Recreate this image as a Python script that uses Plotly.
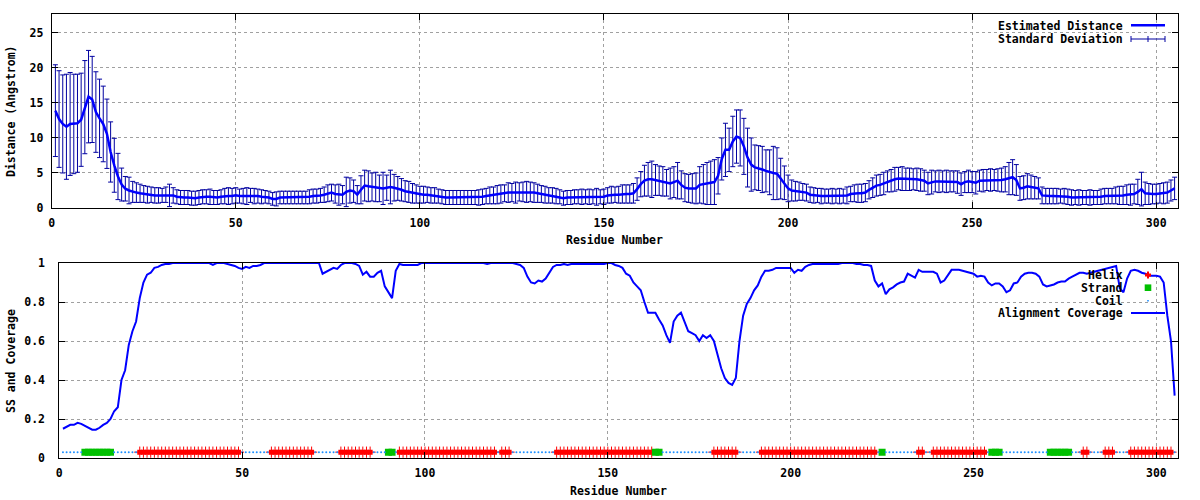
import plotly.graph_objects as go

# ---------------- data ----------------
residues = list(range(1, 306))

distance = [
    13.9, 12.7, 12.0, 11.6, 12.0, 12.0, 12.1, 12.6, 14.4, 15.9,
    15.5, 13.7, 12.8, 12.0, 10.6, 8.0, 6.1, 4.5, 3.35, 2.75,
    2.5, 2.3, 2.2, 2.1, 2.0, 1.9, 1.9, 1.8, 1.8, 1.8,
    1.9, 1.8, 1.8, 1.6, 1.5, 1.5, 1.5, 1.4, 1.4, 1.5,
    1.6, 1.6, 1.6, 1.5, 1.5, 1.6, 1.7, 1.7, 1.7, 1.8,
    1.7, 1.7, 1.7, 1.8, 1.7, 1.7, 1.6, 1.6, 1.5, 1.3,
    1.3, 1.5, 1.5, 1.5, 1.5, 1.5, 1.5, 1.5, 1.5, 1.6,
    1.7, 1.7, 1.8, 1.9, 2.1, 2.2, 2.0, 1.9, 1.9, 2.3,
    2.5, 2.4, 1.9, 2.6, 3.2, 3.1, 3.0, 3.0, 2.8, 2.8,
    2.9, 3.0, 2.9, 2.8, 2.6, 2.4, 2.3, 2.1, 2.0, 1.9,
    1.9, 1.9, 1.8, 1.8, 1.7, 1.6, 1.5, 1.5, 1.5, 1.5,
    1.5, 1.5, 1.5, 1.5, 1.5, 1.5, 1.6, 1.7, 1.8, 1.8,
    1.9, 2.0, 2.1, 2.2, 2.2, 2.2, 2.3, 2.3, 2.3, 2.3,
    2.2, 2.1, 2.0, 1.9, 1.8, 1.8, 1.7, 1.6, 1.4, 1.5,
    1.5, 1.6, 1.6, 1.6, 1.6, 1.6, 1.6, 1.6, 1.6, 1.6,
    1.8, 1.9, 1.9, 1.9, 2.0, 2.0, 2.0, 2.1, 2.7, 3.4,
    3.9, 4.1, 4.1, 4.0, 3.9, 3.8, 3.6, 3.5, 3.7, 3.9,
    3.3, 2.9, 2.8, 2.8, 2.8, 3.3, 3.4, 3.5, 3.6, 3.7,
    4.6, 7.0, 8.3, 8.3, 9.5, 10.2, 10.0, 8.8, 7.2, 6.2,
    5.8, 5.7, 5.5, 5.3, 5.1, 5.0, 4.9, 4.2, 3.6, 2.8,
    2.5, 2.4, 2.4, 2.3, 2.2, 1.9, 1.8, 1.8, 1.7, 1.7,
    1.7, 1.7, 1.7, 1.7, 1.7, 1.8, 2.0, 2.1, 2.1, 2.1,
    2.2, 2.6, 2.9, 3.2, 3.3, 3.5, 3.8, 3.9, 4.1, 4.2,
    4.2, 4.1, 4.1, 4.1, 4.1, 4.0, 3.9, 3.5, 3.7, 3.8,
    3.8, 3.8, 3.8, 3.8, 3.8, 3.7, 3.4, 3.7, 3.8, 3.7,
    3.6, 3.9, 3.9, 4.0, 4.0, 4.0, 4.0, 4.0, 4.1, 4.2,
    4.4, 4.0, 2.8, 2.9, 3.1, 3.0, 2.9, 2.8, 1.8, 1.7,
    1.7, 1.7, 1.7, 1.7, 1.7, 1.6, 1.5, 1.5, 1.5, 1.5,
    1.5, 1.5, 1.5, 1.5, 1.6, 1.7, 1.7, 1.7, 1.8, 1.8,
    1.8, 1.9, 1.9, 2.0, 2.3, 2.7, 2.1, 2.0, 2.0, 2.0,
    2.1, 2.1, 2.2, 2.5, 2.8,
]

std_dev = [
    6.55, 6.9, 7.0, 7.5, 7.35, 7.1, 7.0, 6.65, 6.65, 6.6,
    6.15, 5.75, 5.6, 5.4, 4.95, 4.3, 3.85, 3.3, 2.35, 1.75,
    1.9, 1.5, 1.4, 1.3, 1.2, 1.2, 1.1, 1.1, 1.1, 1.0,
    1.1, 1.6, 1.1, 1.0, 1.0, 1.0, 1.0, 1.0, 1.0, 1.0,
    1.0, 1.0, 1.1, 1.0, 1.0, 1.0, 1.1, 1.2, 1.1, 1.1,
    1.0, 1.1, 1.2, 1.0, 1.1, 1.0, 1.0, 0.9, 0.9, 0.9,
    1.0, 0.9, 0.9, 0.9, 0.9, 0.9, 0.9, 0.9, 0.9, 1.0,
    1.0, 1.0, 1.0, 1.1, 1.2, 1.2, 1.3, 1.5, 1.3, 2.1,
    1.8, 1.6, 1.3, 2.0, 2.2, 2.2, 2.0, 2.1, 1.9, 2.3,
    1.8, 2.4, 1.9, 1.7, 1.6, 1.5, 1.5, 1.4, 1.3, 1.2,
    1.2, 1.1, 1.1, 1.1, 1.0, 1.0, 1.0, 1.0, 1.0, 1.0,
    1.0, 1.0, 1.0, 1.0, 1.0, 1.1, 1.1, 1.1, 1.2, 1.2,
    1.3, 1.3, 1.2, 1.4, 1.3, 1.5, 1.3, 1.4, 1.5, 1.4,
    1.4, 1.3, 1.2, 1.2, 1.1, 1.1, 1.1, 1.0, 1.0, 1.0,
    1.0, 1.0, 1.0, 1.1, 1.0, 1.1, 1.0, 1.2, 1.0, 1.1,
    1.1, 1.2, 1.1, 1.2, 1.3, 1.3, 1.3, 1.4, 1.6, 1.8,
    2.2, 2.4, 2.6, 2.2, 2.1, 2.1, 1.9, 2.2, 2.2, 2.6,
    2.0, 2.0, 2.0, 2.1, 2.2, 2.6, 2.8, 3.0, 3.1, 3.2,
    2.6, 3.0, 3.8, 3.1, 3.6, 3.8, 4.0, 4.0, 4.2, 3.8,
    3.2, 3.2, 3.3, 3.0, 3.2, 3.8, 3.7, 2.9, 2.4, 1.9,
    1.5, 1.4, 1.3, 1.2, 1.2, 1.1, 1.1, 1.0, 1.1, 1.0,
    1.0, 1.1, 1.0, 1.1, 1.0, 1.2, 1.1, 1.2, 1.3, 1.3,
    1.3, 1.3, 1.4, 1.5, 1.5, 1.6, 1.5, 1.6, 1.7, 1.6,
    1.7, 1.6, 1.6, 1.5, 1.6, 1.6, 1.5, 1.6, 1.7, 1.5,
    1.6, 1.5, 1.6, 1.5, 1.5, 1.6, 1.6, 1.5, 1.6, 1.5,
    1.6, 1.5, 1.6, 1.5, 1.6, 1.5, 1.6, 1.7, 1.8, 2.3,
    2.5, 2.2, 1.7, 1.7, 1.8, 1.7, 1.6, 1.5, 1.2, 1.1,
    1.1, 1.1, 1.1, 1.0, 1.1, 1.1, 1.1, 1.0, 1.1, 1.0,
    1.0, 1.1, 1.0, 1.0, 1.1, 1.1, 1.1, 1.1, 1.2, 1.3,
    1.3, 1.4, 1.5, 1.4, 1.8, 2.4, 1.6, 1.5, 1.4, 1.4,
    1.4, 1.5, 1.5, 1.5, 1.6,
]

coverage = [
    0.15, 0.16, 0.17, 0.17, 0.18, 0.175, 0.165, 0.155, 0.145, 0.145,
    0.155, 0.17, 0.18, 0.20, 0.24, 0.26, 0.40, 0.45, 0.58, 0.65,
    0.70, 0.82, 0.90, 0.94, 0.95, 0.975, 0.98, 0.99, 0.995, 0.995,
    1.0, 1.0, 1.0, 1.0, 1.0, 1.0, 1.0, 1.0, 1.0, 1.0,
    1.0, 0.99, 1.0, 1.0, 1.0, 0.995, 0.99, 0.985, 0.975, 0.97,
    0.98, 0.975, 0.985, 0.985, 0.99, 1.0, 1.0, 1.0, 1.0, 1.0,
    1.0, 1.0, 1.0, 1.0, 1.0, 1.0, 1.0, 1.0, 1.0, 1.0,
    1.0, 0.945, 0.955, 0.965, 0.975, 0.97, 0.99, 1.0, 1.0, 1.0,
    0.995, 0.985, 0.94, 0.955, 0.93, 0.93, 0.95, 0.96, 0.88, 0.85,
    0.82, 0.96, 0.995, 0.99, 0.99, 0.99, 0.99, 0.99, 1.0, 1.0,
    1.0, 1.0, 1.0, 1.0, 1.0, 1.0, 1.0, 1.0, 1.0, 1.0,
    1.0, 1.0, 1.0, 1.0, 1.0, 1.0, 0.995, 1.0, 1.0, 1.0,
    1.0, 1.0, 1.0, 1.0, 0.995, 0.99, 0.975, 0.93, 0.90, 0.895,
    0.91, 0.905, 0.92, 0.95, 0.98, 0.99, 0.99, 0.995, 0.99, 0.995,
    0.995, 0.995, 0.995, 0.995, 0.995, 0.995, 0.995, 0.995, 0.995, 1.0,
    1.0, 0.99, 0.985, 0.975, 0.945, 0.935, 0.90, 0.88, 0.86, 0.80,
    0.745, 0.745, 0.745, 0.71, 0.68, 0.63, 0.59, 0.70, 0.73, 0.745,
    0.70, 0.65, 0.64, 0.63, 0.60, 0.63, 0.615, 0.63, 0.60, 0.53,
    0.46, 0.41, 0.385, 0.375, 0.41, 0.60, 0.73, 0.79, 0.82, 0.86,
    0.885, 0.93, 0.96, 0.96, 0.965, 0.975, 0.975, 0.975, 0.975, 0.975,
    0.95, 0.965, 0.96, 0.98, 0.99, 0.995, 0.995, 0.995, 0.995, 0.995,
    0.995, 0.995, 0.995, 1.0, 1.0, 1.0, 1.0, 0.995, 0.995, 0.99,
    0.99, 0.985, 0.91, 0.88, 0.895, 0.84, 0.865, 0.875, 0.89, 0.90,
    0.905, 0.945, 0.935, 0.925, 0.965, 0.955, 0.955, 0.955, 0.955, 0.945,
    0.90, 0.91, 0.94, 0.965, 0.965, 0.965, 0.96, 0.955, 0.95, 0.945,
    0.93, 0.935, 0.93, 0.90, 0.885, 0.895, 0.895, 0.88, 0.85, 0.86,
    0.895, 0.90, 0.93, 0.945, 0.95, 0.95, 0.945, 0.93, 0.89, 0.88,
    0.885, 0.89, 0.90, 0.905, 0.905, 0.92, 0.93, 0.94, 0.95, 0.95,
    0.945, 0.95, 0.955, 0.96, 0.965, 0.97, 0.975, 0.98, 0.985, 0.87,
    0.85, 0.92, 0.96, 0.965, 0.96, 0.95, 0.945, 0.935, 0.935, 0.935,
    0.93, 0.90, 0.73, 0.60, 0.32,
]

# secondary structure, run-length encoded (H helix, E strand, C coil)
ss_types = ["C", "E", "C", "H", "C", "H", "C", "H", "C", "E", "C", "H", "C", "H",
            "C", "H", "E", "C", "H", "C", "H", "C", "E", "C", "H", "C", "H", "C",
            "E", "C", "E", "C", "H", "C", "H", "C", "H", "C"]
ss_lengths = [6, 8, 7, 28, 8, 12, 7, 9, 4, 2, 1, 27, 1, 3,
              12, 27, 2, 14, 7, 6, 32, 1, 1, 9, 2, 2, 15, 1,
              3, 13, 6, 3, 2, 4, 3, 4, 12, 1]

x_ticks = [0, 50, 100, 150, 200, 250, 300]
dist_ticks = [0, 5, 10, 15, 20, 25]
cov_ticks = [0, 0.2, 0.4, 0.6, 0.8, 1]

ss_per_res = []
for t, n in zip(ss_types, ss_lengths):
    ss_per_res.extend([t] * n)
assert len(ss_per_res) == len(residues) == len(distance) == len(std_dev) == len(coverage)

SS_LEVEL = 0.03
helix_x = [r for r, s in zip(residues, ss_per_res) if s == "H"]
strand_x = [r for r, s in zip(residues, ss_per_res) if s == "E"]
coil_x = [r for r, s in zip(residues, ss_per_res) if s == "C"]

# ---------------- style ----------------
W, H = 1200, 500
FONT = dict(family="DejaVu Sans Mono", size=11.5, color="black", weight="bold")
BLUE = "#0000ff"
EBAR = "#0000a0"
RED = "#ff0000"
GREEN = "#00c000"
COIL = "#1e90ff"
GRID = "#a0a0a0"


def px(x):
    return x / W


def py(y):
    return 1 - y / H


fig = go.Figure()

# top panel
fig.add_trace(go.Scatter(
    x=residues, y=distance, mode="markers", name="Standard Deviation",
    marker=dict(size=1, color=EBAR),
    error_y=dict(type="data", array=std_dev, visible=True, color=EBAR, thickness=1, width=2.5),
    xaxis="x", yaxis="y", showlegend=False))
fig.add_trace(go.Scatter(
    x=residues, y=distance, mode="lines", name="Estimated Distance",
    line=dict(color=BLUE, width=2.5), xaxis="x", yaxis="y", showlegend=False))

# bottom panel
fig.add_trace(go.Scatter(
    x=helix_x, y=[SS_LEVEL] * len(helix_x), mode="markers", name="Helix",
    marker=dict(symbol="square", size=5, color=RED, line=dict(width=0)),
    xaxis="x2", yaxis="y2", showlegend=False))
fig.add_trace(go.Scatter(
    x=helix_x, y=[SS_LEVEL] * len(helix_x), mode="markers", name="Helix",
    marker=dict(symbol="cross-thin", size=8, line=dict(width=1, color=RED)),
    xaxis="x2", yaxis="y2", showlegend=False, hoverinfo="skip"))
fig.add_trace(go.Scatter(
    x=strand_x, y=[SS_LEVEL] * len(strand_x), mode="markers", name="Strand",
    marker=dict(symbol="square", size=7, color=GREEN, line=dict(width=0)),
    xaxis="x2", yaxis="y2", showlegend=False))
fig.add_trace(go.Scatter(
    x=coil_x, y=[SS_LEVEL] * len(coil_x), mode="markers", name="Coil",
    marker=dict(symbol="circle", size=2, color=COIL, line=dict(width=0)),
    xaxis="x2", yaxis="y2", showlegend=False))
fig.add_trace(go.Scatter(
    x=residues, y=coverage, mode="lines", name="Alignment Coverage",
    line=dict(color=BLUE, width=2), xaxis="x2", yaxis="y2", showlegend=False))

axis_common = dict(
    showline=True, linecolor="black", linewidth=1, mirror="ticks",
    ticks="inside", ticklen=6, tickcolor="black", tickwidth=1,
    showgrid=True, gridcolor=GRID, gridwidth=1, griddash="dot",
    zeroline=False, automargin=False, tickfont=FONT,
)

fig.update_layout(
    width=W, height=H,
    margin=dict(l=0, r=0, t=0, b=0),
    paper_bgcolor="white", plot_bgcolor="white",
    font=FONT,
    showlegend=False,
    xaxis=dict(axis_common, domain=[px(51.7), px(1178.3)], range=[0, 306],
               tickvals=x_ticks, anchor="y", ticklabelstandoff=4),
    yaxis=dict(axis_common, domain=[py(208), py(14)], range=[0, 27.7],
               tickvals=dist_ticks, anchor="x", ticklabelstandoff=5),
    xaxis2=dict(axis_common, domain=[px(59.3), px(1178.3)], range=[0, 306],
                tickvals=x_ticks, anchor="y2", ticklabelstandoff=4),
    yaxis2=dict(axis_common, domain=[py(458), py(263)], range=[0, 1],
                tickvals=cov_ticks, anchor="x2", ticklabelstandoff=11),
)

shapes = []
annotations = []

# opaque key boxes (hide grid, drawn under data)
for (x0, y0, x1, y1) in [(990, 14.5, 1178, 43), (995, 263.5, 1178, 320)]:
    shapes.append(dict(type="rect", xref="paper", yref="paper", layer="between",
                       x0=px(x0), x1=px(x1), y0=py(y1), y1=py(y0),
                       fillcolor="white", line=dict(width=0)))

# key texts
keys = [
    ("Estimated Distance", 25.7),
    ("Standard Deviation", 39.0),
    ("Helix", 275.0),
    ("Strand", 287.7),
    ("Coil", 300.7),
    ("Alignment Coverage", 313.3),
]
for text, yy in keys:
    annotations.append(dict(text=text, xref="paper", yref="paper", x=px(1123.5), y=py(yy),
                            xanchor="right", yanchor="middle", showarrow=False, font=FONT,
                            borderpad=0))

# key samples
SX0, SX1, SXM = 1131, 1165, 1148
shapes.append(dict(type="line", xref="paper", yref="paper", x0=px(SX0), x1=px(SX1),
                   y0=py(25.3), y1=py(25.3), line=dict(color=BLUE, width=2.5)))
shapes.append(dict(type="line", xref="paper", yref="paper", x0=px(SX0), x1=px(SX1),
                   y0=py(39), y1=py(39), line=dict(color=EBAR, width=1)))
for xx, h in [(SX0, 3), (SX1, 3), (SXM, 3)]:
    shapes.append(dict(type="line", xref="paper", yref="paper", x0=px(xx), x1=px(xx),
                       y0=py(39 - h), y1=py(39 + h), line=dict(color=EBAR, width=1)))
# helix '+'
shapes.append(dict(type="rect", xref="paper", yref="paper", x0=px(SXM - 3), x1=px(SXM + 3),
                   y0=py(276.5), y1=py(273.5), fillcolor=RED, line=dict(width=0)))
shapes.append(dict(type="rect", xref="paper", yref="paper", x0=px(SXM - 1), x1=px(SXM + 1),
                   y0=py(278.5), y1=py(271.5), fillcolor=RED, line=dict(width=0)))
# strand square
shapes.append(dict(type="rect", xref="paper", yref="paper", x0=px(SXM - 3.3), x1=px(SXM + 3.3),
                   y0=py(291), y1=py(284.4), fillcolor=GREEN, line=dict(width=0)))
# coil dot
shapes.append(dict(type="rect", xref="paper", yref="paper", x0=px(SXM - 0.8), x1=px(SXM + 0.8),
                   y0=py(301.5), y1=py(299.9), fillcolor=COIL, line=dict(width=0)))
# coverage line
shapes.append(dict(type="line", xref="paper", yref="paper", x0=px(SX0), x1=px(SX1),
                   y0=py(313), y1=py(313), line=dict(color=BLUE, width=2)))

# axis titles
annotations += [
    dict(text="Distance (Angstrom)", xref="paper", yref="paper", x=px(11), y=py(111),
         textangle=-90, showarrow=False, xanchor="center", yanchor="middle", font=FONT),
    dict(text="Residue Number", xref="paper", yref="paper", x=px(614), y=py(240),
         showarrow=False, xanchor="center", yanchor="middle", font=FONT),
    dict(text="SS and Coverage", xref="paper", yref="paper", x=px(11), y=py(361),
         textangle=-90, showarrow=False, xanchor="center", yanchor="middle", font=FONT),
    dict(text="Residue Number", xref="paper", yref="paper", x=px(618), y=py(491),
         showarrow=False, xanchor="center", yanchor="middle", font=FONT),
]

fig.update_layout(shapes=shapes, annotations=annotations)
fig.write_html(
    "out.html",
    config={"displayModeBar": False},
    post_script="document.body.style.margin='0';document.body.style.overflow='hidden';",
)
